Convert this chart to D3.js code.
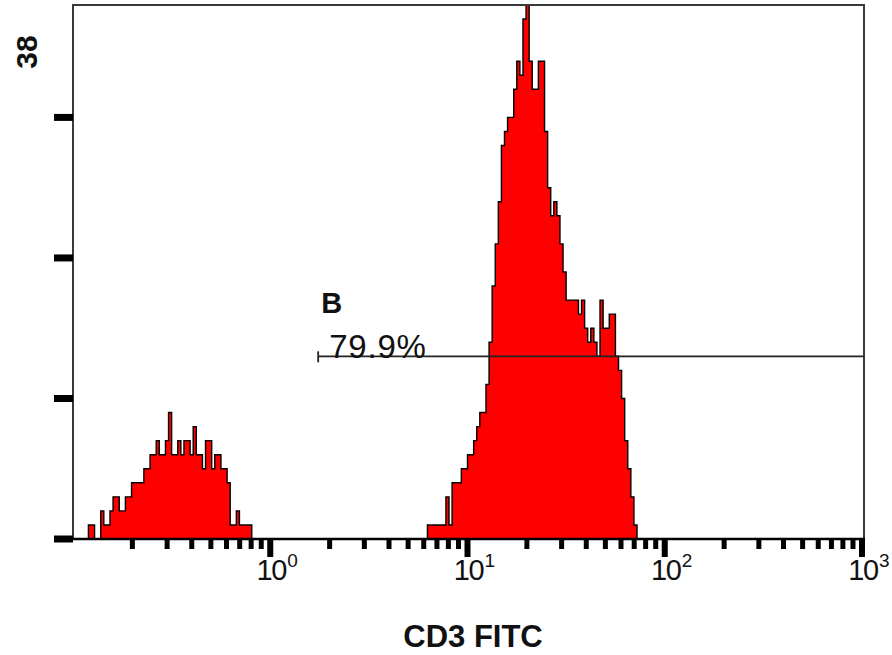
<!DOCTYPE html>
<html><head><meta charset="utf-8">
<script src="https://cdn.jsdelivr.net/npm/d3@7"></script>
<style>body{margin:0;background:#fff}svg{display:block}</style>
</head><body><svg id="c" width="892" height="655"></svg>
<script>
// ---- data ----
const channelsPerDecade = 64;
const axisMin = 0.1, axisMax = 1000;
const yMax = 38;
const yTicks = [0, 10, 20, 30];
const yMaxLabel = "38";
const majorTicks = [1, 10, 100, 1000];
const majorExponents = ["0", "1", "2", "3"];
const minorMultipliers = [2, 3, 4, 5, 6, 7, 8, 9];
const minorDecades = [0.1, 1, 10, 100];
const peak1Start = 5;
const peak1Counts = [1,1,0,0,2,1,1,2,3,3,2,2,3,3,4,4,4,4,5,5,6,6,7,6,6,7,9,6,6,7,6,7,7,6,8,6,6,5,7,7,5,6,6,5,5,4,1,1,2,1,1,1,1];
const peak2Start = 115;
const peak2Counts = [1,1,1,1,1,1,3,1,4,4,4,5,5,6,6,7,8,9,9,11,14,18,21,24,28,29,30,30,32,34,33,37,38,34,32,32,34,34,29,25,23,24,23,21,19,17,17,17,17,16,17,15,14,15,14,13,17,15,15,16,16,13,12,10,7,5,3,1];
const gateName = "B";
const gatePercent = "79.9%";
const gateStart = 1.75;
const gateLevel = 13.0;
const xTitle = "CD3 FITC";

// ---- layout ----
const svg = d3.select("#c");
const X0 = 73, X1 = 862, FR = 864, Y0 = 539, Y1 = 5;
const FONT = "Liberation Sans, Arial, sans-serif";
const x = d3.scaleLog().domain([axisMin, axisMax]).range([X0, X1]);
const y = d3.scaleLinear().domain([0, yMax]).range([Y0, Y1]);
const chVal = c => axisMin * Math.pow(10, c / channelsPerDecade);

svg.append("clipPath").attr("id", "clip").append("rect")
  .attr("x", X0).attr("y", Y1).attr("width", FR - X0).attr("height", Y0 - Y1);

function peakPoints(start, counts) {
  const pts = [[chVal(start), 0]];
  counts.forEach((c, i) => pts.push([chVal(start + i), c]));
  pts.push([chVal(start + counts.length), 0]);
  return pts;
}
const area = d3.area().curve(d3.curveStepAfter)
  .x(d => x(d[0])).y0(y(0)).y1(d => y(d[1]));
const line = d3.line().curve(d3.curveStepAfter)
  .x(d => x(d[0])).y(d => y(d[1]));

const g = svg.append("g").attr("clip-path", "url(#clip)");
[[peak1Start, peak1Counts], [peak2Start, peak2Counts]].forEach(([s, c]) => {
  const pts = peakPoints(s, c);
  g.append("path").attr("d", area(pts)).attr("fill", "#ff0000");
  g.append("path").attr("d", line(pts)).attr("fill", "none")
    .attr("stroke", "#000").attr("stroke-width", 1.4);
});

// frame
svg.append("rect").attr("x", X0).attr("y", Y1).attr("width", FR - X0).attr("height", Y0 - Y1)
  .attr("fill", "none").attr("stroke", "#3a3a3a").attr("stroke-width", 2);
svg.append("line").attr("x1", X0 - 1).attr("x2", FR + 1).attr("y1", Y0).attr("y2", Y0)
  .attr("stroke", "#000").attr("stroke-width", 2.5);

// y ticks
svg.selectAll(".yt").data(yTicks).join("line")
  .attr("x1", 54).attr("x2", X0).attr("y1", d => y(d)).attr("y2", d => y(d))
  .attr("stroke", "#000").attr("stroke-width", 7);
svg.append("text").attr("transform", `translate(37,52) rotate(-90)`)
  .attr("text-anchor", "middle").attr("font-family", FONT)
  .attr("font-weight", "bold").attr("font-size", 30).attr("fill", "#111").text(yMaxLabel);

// x ticks
const minorVals = [];
minorDecades.forEach(d => minorMultipliers.forEach(m => minorVals.push(d * m)));
svg.selectAll(".xm").data(minorVals).join("line")
  .attr("x1", d => x(d)).attr("x2", d => x(d)).attr("y1", Y0).attr("y2", 549)
  .attr("stroke", "#000").attr("stroke-width", 5);
svg.selectAll(".xM").data(majorTicks).join("line")
  .attr("x1", d => x(d)).attr("x2", d => x(d)).attr("y1", Y0).attr("y2", 557)
  .attr("stroke", "#000").attr("stroke-width", 6);
majorTicks.forEach((v, i) => {
  svg.append("text").attr("x", x(v) + 1).attr("y", 580).attr("text-anchor", "middle")
    .attr("font-family", FONT).attr("font-size", 29)
    .attr("letter-spacing", -1.5).attr("fill", "#111").text("10");
  svg.append("text").attr("x", x(v) + 17).attr("y", 567)
    .attr("font-family", FONT).attr("font-size", 19)
    .attr("fill", "#111").text(majorExponents[i]);
});

// gate
const gy = y(gateLevel), gx = x(gateStart);
svg.append("line").attr("x1", gx).attr("x2", FR).attr("y1", gy).attr("y2", gy)
  .attr("stroke", "#222").attr("stroke-width", 1.8);
svg.append("line").attr("x1", gx).attr("x2", gx).attr("y1", gy - 5).attr("y2", gy + 6)
  .attr("stroke", "#222").attr("stroke-width", 1.8);
svg.append("text").attr("x", gx + 3).attr("y", 313)
  .attr("font-family", FONT).attr("font-weight", "bold").attr("font-size", 29)
  .attr("fill", "#111").text(gateName);
svg.append("text").attr("x", gx + 11).attr("y", 358)
  .attr("font-family", FONT).attr("font-size", 33).attr("letter-spacing", 0.8)
  .attr("fill", "#111").text(gatePercent);

// x title
svg.append("text").attr("x", 473).attr("y", 647).attr("text-anchor", "middle")
  .attr("font-family", FONT).attr("font-weight", "bold")
  .attr("font-size", 31).attr("fill", "#111").text(xTitle);
</script></body></html>
